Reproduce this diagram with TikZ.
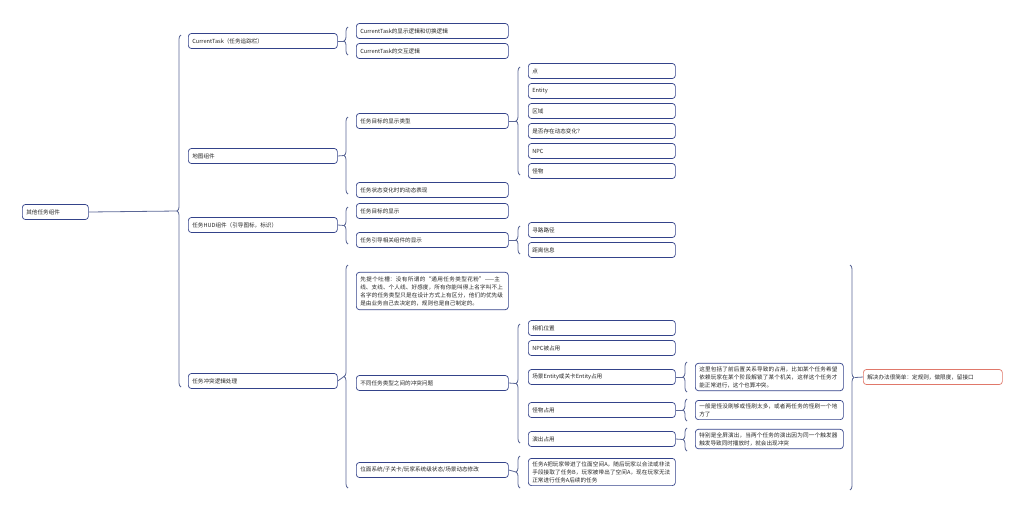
\documentclass[tikz,border=0pt]{standalone}
\usepackage{fontspec}
\newfontfamily\cjk{Noto Sans CJK SC}
\XeTeXlinebreaklocale "zh"
\XeTeXlinebreakskip=0pt plus 1pt
\usetikzlibrary{decorations.pathreplacing}
\definecolor{navy}{HTML}{34438A}
\definecolor{bracecol}{HTML}{5B6796}
\definecolor{solred}{HTML}{E0786A}
\tikzset{
  box/.style={draw=navy, rounded corners=3pt, line width=0.7pt, fill=white, anchor=west,
    align=left, minimum height=15, inner xsep=4, inner ysep=2.5,
    font=\cjk\fontsize{5.6}{8}\selectfont, text=black!85},
  brace/.style={draw=bracecol, line width=0.8pt, decorate, decoration={brace, amplitude=4}},
  link/.style={draw=bracecol, line width=0.8pt}
}
% brace at x from y1 (bottom) to y2 (top), tip joined to a node
\newcommand\bracket[4]{%
  \draw[brace] (#1,#3) -- (#1,#2);
  \draw[link] (#4.east) -- (#1-4,{(#2+#3)/2});}
\begin{document}
\begin{tikzpicture}[x=1pt,y=-1pt]
  \useasboundingbox (0,0) rectangle (1024,515);

  % root
  \node[box, text width=58] (root) at (22,212) {其他任务组件};

  % level 1
  \node[box, text width=141] (cur) at (188,41) {CurrentTask（任务追踪栏）};
  \node[box, text width=141] (map) at (188,156) {地图组件};
  \node[box, text width=141] (hud) at (188,225) {任务HUD组件（引导图标，标识）};
  \node[box, text width=141] (conf) at (188,381) {任务冲突逻辑处理};

  % level 2
  \node[box, text width=144] (curshow) at (356,31) {CurrentTask的显示逻辑和切换逻辑};
  \node[box, text width=144] (curact) at (356,51) {CurrentTask的交互逻辑};
  \node[box, text width=144] (goaltype) at (356,121) {任务目标的显示类型};
  \node[box, text width=144] (dyn) at (356,190) {任务状态变化时的动态表现};
  \node[box, text width=144] (goalshow) at (356,211) {任务目标的显示};
  \node[box, text width=144] (guide) at (356,240) {任务引导相关组件的显示};
  \node[box, text width=144, inner ysep=4] (rant) at (356,291)
    {先提个吐槽：没有所谓的“通用任务类型花粉”——主线、支线、个人线、好感度，所有你能叫得上名字叫不上名字的任务类型只是在设计方式上有区分，他们的优先级是由业务自己去决定的，规则也是自己制定的。};
  \node[box, text width=144] (types) at (356,383) {不同任务类型之间的冲突问题};
  \node[box, text width=144] (phase) at (356,470) {位面系统/子关卡/玩家系统级状态/场景动态修改};

  % level 3
  \node[box, text width=139] (pt) at (528,71) {点};
  \node[box, text width=139] (ent) at (528,91) {Entity};
  \node[box, text width=139] (area) at (528,111) {区域};
  \node[box, text width=139] (chg) at (528,131) {是否存在动态变化？};
  \node[box, text width=139] (npc) at (528,151) {NPC};
  \node[box, text width=139] (mon) at (528,171) {怪物};
  \node[box, text width=139] (path) at (528,230) {寻路路径};
  \node[box, text width=139] (dist) at (528,250) {距离信息};
  \node[box, text width=139] (cam) at (528,328) {相机位置};
  \node[box, text width=139] (npcuse) at (528,348) {NPC被占用};
  \node[box, text width=139] (entuse) at (528,377) {场景Entity或关卡Entity占用};
  \node[box, text width=139] (monuse) at (528,410) {怪物占用};
  \node[box, text width=139] (showuse) at (528,439) {演出占用};
  \node[box, text width=139, inner ysep=3] (phasetxt) at (528,472)
    {任务A把玩家带进了位面空间A，随后玩家以合法或非法手段接取了任务B，玩家被带出了空间A，现在玩家无法正常进行任务A后续的任务};

  % level 4
  \node[box, text width=140, inner ysep=3] (entnote) at (695,377)
    {这里包括了前后置关系导致的占用，比如某个任务希望依赖玩家在某个阶段解锁了某个机关，这样这个任务才能正常进行，这个也算冲突。};
  \node[box, text width=140, inner ysep=3] (monnote) at (695,410)
    {一般是怪没刷够或怪刷太多，或者两任务的怪刷一个地方了};
  \node[box, text width=140, inner ysep=3] (shownote) at (695,439)
    {特别是全屏演出，当两个任务的演出因为同一个触发器触发导致同时播放时，就会出现冲突};

  % solution
  \node[box, draw=solred, text width=131] (sol) at (863,377) {解决办法很简单：定规则，做限度，留接口};

  % braces
  \bracket{181}{35}{387}{root}
  \bracket{348}{27}{55}{cur}
  \bracket{348}{117}{194}{map}
  \bracket{348}{207}{244}{hud}
  \bracket{348}{265}{488}{conf}
  \bracket{520}{67}{175}{goaltype}
  \bracket{520}{226}{254}{guide}
  \bracket{520}{324}{443}{types}
  \bracket{520}{456}{488}{phase}
  \bracket{687}{362}{392}{entuse}
  \bracket{687}{399}{421}{monuse}
  \bracket{687}{428}{451}{showuse}
  \draw[brace] (850,265) -- (850,490);
  \draw[link] (855,377.5) -- (sol.west);
\end{tikzpicture}
\end{document}
